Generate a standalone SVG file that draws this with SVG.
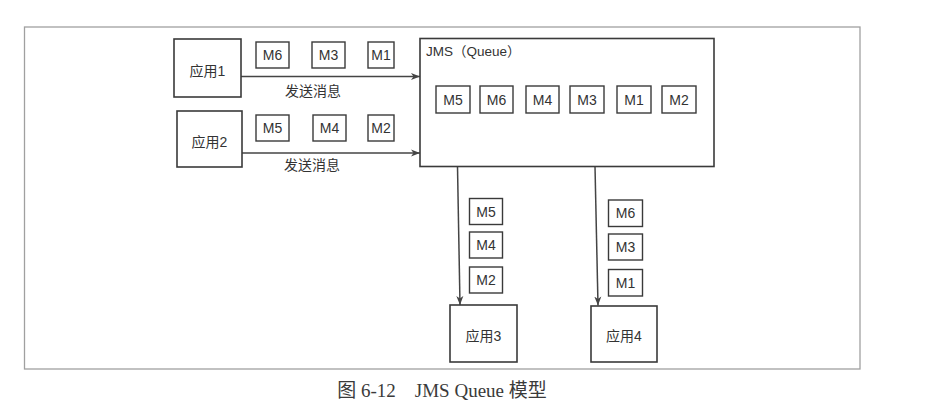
<svg xmlns="http://www.w3.org/2000/svg" width="949" height="420" viewBox="0 0 949 420">
<style>
.box{fill:#fff;stroke:#3a3a3a;stroke-width:1.6}
.msg{fill:#fff;stroke:#3a3a3a;stroke-width:1.4}
.t{font-family:"Liberation Sans","Noto Sans CJK SC",sans-serif;font-size:14px;fill:#333;text-anchor:middle;dominant-baseline:central}
.m{font-family:"Liberation Sans","Noto Sans CJK SC",sans-serif;font-size:14px;fill:#333;text-anchor:middle;dominant-baseline:central}
.conn{stroke:#444;stroke-width:1.5;fill:none;marker-end:url(#ah)}
</style>
<defs>
<marker id="ah" markerWidth="10" markerHeight="8" refX="9" refY="4" orient="auto" markerUnits="userSpaceOnUse">
<path d="M0,0.5 L9,4 L0,7.5 L2.5,4 Z" fill="#444"/>
</marker>
</defs>
<rect x="0" y="0" width="949" height="420" fill="#fff"/>
<rect x="24.5" y="27" width="835.5" height="342" fill="none" stroke="#a0a0a0" stroke-width="1.3"/>

<g id="connectors">
<line class="conn" x1="241" y1="76.5" x2="420" y2="76.5"/>
<line class="conn" x1="242" y1="153" x2="420" y2="153"/>
<line class="conn" x1="457.5" y1="166.5" x2="460" y2="305"/>
<line class="conn" x1="595" y1="166.5" x2="598" y2="305.5"/>
<text class="m" x="313" y="91">发送消息</text>
<text class="m" x="312" y="165">发送消息</text>
</g>

<g id="app1"><rect class="box" x="174" y="39" width="67" height="58"/><text class="t" x="207.5" y="71">应用1</text></g>
<g id="app2"><rect class="box" x="177" y="111" width="65" height="56"/><text class="t" x="209.5" y="142">应用2</text></g>
<g id="app3"><rect class="box" x="450" y="305" width="67" height="57"/><text class="t" x="483.5" y="336">应用3</text></g>
<g id="app4"><rect class="box" x="591" y="306" width="66" height="56"/><text class="t" x="624" y="336">应用4</text></g>

<g id="jms">
<rect class="box" x="420" y="38.5" width="294" height="128"/>
<text x="426" y="56" font-family="Liberation Sans, Noto Sans CJK SC, sans-serif" font-size="13.5" fill="#333">JMS（Queue）</text>
<g id="jms-m5"><rect class="msg" x="436" y="86" width="34" height="27"/><text class="m" x="453" y="99.5">M5</text></g>
<g id="jms-m6"><rect class="msg" x="480" y="86" width="33" height="27"/><text class="m" x="496.5" y="99.5">M6</text></g>
<g id="jms-m4"><rect class="msg" x="526" y="86" width="33" height="27"/><text class="m" x="542.5" y="99.5">M4</text></g>
<g id="jms-m3"><rect class="msg" x="570" y="86" width="34" height="27"/><text class="m" x="587" y="99.5">M3</text></g>
<g id="jms-m1"><rect class="msg" x="617" y="86" width="34" height="27"/><text class="m" x="634" y="99.5">M1</text></g>
<g id="jms-m2"><rect class="msg" x="662" y="86" width="34" height="27"/><text class="m" x="679" y="99.5">M2</text></g>
</g>

<g id="s1-m6"><rect class="msg" x="256" y="42" width="33" height="26"/><text class="m" x="272.5" y="55">M6</text></g>
<g id="s1-m3"><rect class="msg" x="312" y="42" width="33" height="26"/><text class="m" x="328.5" y="55">M3</text></g>
<g id="s1-m1"><rect class="msg" x="368" y="42" width="26" height="26"/><text class="m" x="381" y="55">M1</text></g>

<g id="s2-m5"><rect class="msg" x="256" y="115" width="33" height="26"/><text class="m" x="272.5" y="128">M5</text></g>
<g id="s2-m4"><rect class="msg" x="313" y="115" width="33" height="26"/><text class="m" x="329.5" y="128">M4</text></g>
<g id="s2-m2"><rect class="msg" x="368" y="115" width="26" height="26"/><text class="m" x="381" y="128">M2</text></g>

<g id="r3-m5"><rect class="msg" x="469.5" y="198.5" width="33" height="26"/><text class="m" x="486" y="211.5">M5</text></g>
<g id="r3-m4"><rect class="msg" x="469.5" y="232" width="33" height="26"/><text class="m" x="486" y="245">M4</text></g>
<g id="r3-m2"><rect class="msg" x="469.5" y="267" width="33" height="26"/><text class="m" x="486" y="280">M2</text></g>

<g id="r4-m6"><rect class="msg" x="608.5" y="200" width="34" height="26.5"/><text class="m" x="625.5" y="213">M6</text></g>
<g id="r4-m3"><rect class="msg" x="608.5" y="234" width="34" height="26"/><text class="m" x="625.5" y="247">M3</text></g>
<g id="r4-m1"><rect class="msg" x="608.5" y="269.5" width="34" height="26.5"/><text class="m" x="625.5" y="282.5">M1</text></g>

<text x="442" y="397" font-family="Liberation Serif, Noto Sans CJK SC, serif" font-size="19" fill="#3a3a3a" text-anchor="middle">图 6-12　JMS Queue 模型</text>
</svg>
